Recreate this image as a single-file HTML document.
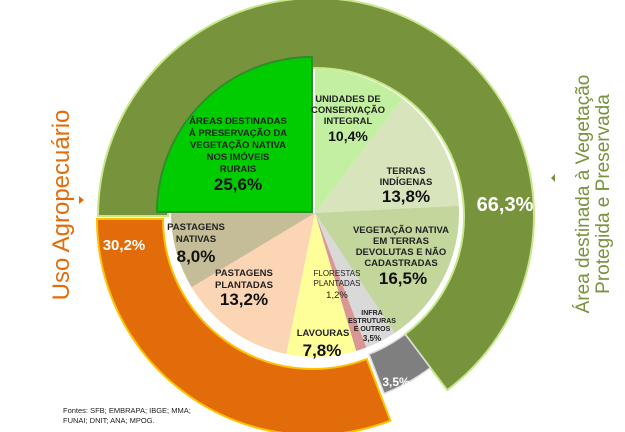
<!DOCTYPE html>
<html><head><meta charset="utf-8"><style>
body{margin:0;background:#fff;width:625px;height:432px;overflow:hidden}
svg{display:block;font-family:"Liberation Sans",Arial,sans-serif}
.l{font-size:9.5px;font-weight:bold;fill:#222}
.p{font-size:17px;font-weight:bold;fill:#111}
</style></head><body>
<svg width="625" height="432" viewBox="0 0 625 432">
<!-- outer ring green -->
<path d="M98,216 A218,218 0 1 1 447.2,390.1 L405.1,334.2 A148,148 0 1 0 168,216 Z" fill="#77933c" stroke="#c6e88a" stroke-width="2"/>
<!-- gray -->
<path d="M430.3,367.7 A190,190 0 0 1 384.1,393.4 L369,354.2 A148,148 0 0 0 405.1,334.2 Z" fill="#7f7f7f" stroke="#ddd" stroke-width="1.5"/>
<!-- orange -->
<path d="M390.4,420.7 A216,216 0 0 1 97,219 L163,219 A150,150 0 0 0 366.8,359 Z" fill="#e36c0a" stroke="#ffc000" stroke-width="2"/>
<!-- inner pie -->
<path d="M315,213 L315,69 A144,144 0 0 1 402.5,98.6 Z" fill="#c2efa0"/>
<path d="M315,213 L402.5,98.6 A144,144 0 0 1 458.8,205.7 Z" fill="#d8e4bc"/>
<path d="M315,213 L458.8,205.7 A144,144 0 0 1 394.5,333.1 Z" fill="#c3d69b"/>
<path d="M315,213 L394.5,333.1 A144,144 0 0 1 366.4,347.5 Z" fill="#d9d9d9"/>
<path d="M315,213 L366.4,347.5 A144,144 0 0 1 356.1,351 Z" fill="#d99694"/>
<path d="M315,213 L356.1,351 A144,144 0 0 1 286.3,354.1 Z" fill="#ffff99"/>
<path d="M315,213 L286.3,354.1 A144,144 0 0 1 191.6,287.2 Z" fill="#fcd5b5"/>
<path d="M315,213 L191.6,287.2 A144,144 0 0 1 171.1,207.5 Z" fill="#c4bd97"/>
<!-- exploded green wedge -->
<path d="M312,212 L157,212 A155,155 0 0 1 312,57 Z" fill="#00cc00" stroke="#2e8b2e" stroke-width="2"/>
<!-- pie labels -->
<g text-anchor="middle">
<text class="l" x="238" y="124">ÁREAS DESTINADAS</text>
<text class="l" x="238" y="136">À PRESERVAÇÃO DA</text>
<text class="l" x="238" y="148">VEGETAÇÃO NATIVA</text>
<text class="l" x="238" y="160">NOS IMÓVEIS</text>
<text class="l" x="238" y="172">RURAIS</text>
<text class="p" x="238" y="190">25,6%</text>
<text class="l" x="348" y="102">UNIDADES DE</text>
<text class="l" x="348" y="113">CONSERVAÇÃO</text>
<text class="l" x="348" y="124">INTEGRAL</text>
<text class="p" x="348" y="141" style="font-size:14px">10,4%</text>
<text class="l" x="406" y="174">TERRAS</text>
<text class="l" x="406" y="185">INDÍGENAS</text>
<text class="p" x="406" y="202">13,8%</text>
<text class="l" x="401" y="233">VEGETAÇÃO NATIVA</text>
<text class="l" x="401" y="244">EM TERRAS</text>
<text class="l" x="401" y="255">DEVOLUTAS E NÃO</text>
<text class="l" x="401" y="266">CADASTRADAS</text>
<text class="p" x="403" y="284">16,5%</text>
<text class="l" x="196" y="230">PASTAGENS</text>
<text class="l" x="196" y="242">NATIVAS</text>
<text class="p" x="196" y="262">8,0%</text>
<text class="l" x="244" y="276">PASTAGENS</text>
<text class="l" x="244" y="288">PLANTADAS</text>
<text class="p" x="244" y="305">13,2%</text>
<text class="l" x="337" y="276" style="font-size:8px;font-weight:normal">FLORESTAS</text>
<text class="l" x="337" y="286" style="font-size:8px;font-weight:normal">PLANTADAS</text>
<text class="l" x="337" y="298" style="font-weight:normal">1,2%</text>
<text class="l" x="372" y="315" style="font-size:7px">INFRA</text>
<text class="l" x="372" y="323" style="font-size:7px">ESTRUTURAS</text>
<text class="l" x="372" y="331" style="font-size:7px">E OUTROS</text>
<text class="l" x="372" y="341" style="font-size:8px">3,5%</text>
<text class="l" x="323" y="336">LAVOURAS</text>
<text class="p" x="322" y="356">7,8%</text>
<text x="505" y="211" fill="#fff" font-size="20" font-weight="bold">66,3%</text>
<text x="124" y="250" fill="#fff" font-size="15" font-weight="bold">30,2%</text>
<text x="396" y="386" fill="#fff" font-size="12" font-weight="bold">3,5%</text>
</g>
<!-- side titles -->
<text transform="translate(69,205) rotate(-90)" text-anchor="middle" fill="#e36c0a" font-size="24">Uso Agropecuário</text>
<path d="M79,196 L84,200 L79,204 Z" fill="#e36c0a"/>
<text transform="translate(589,194) rotate(-90)" text-anchor="middle" fill="#77933c" font-size="19">Área destinada à Vegetação</text>
<text transform="translate(609,194) rotate(-90)" text-anchor="middle" fill="#77933c" font-size="19">Protegida e Preservada</text>
<path d="M555,174 L551,178 L555,182 Z" fill="#77933c"/>
<!-- source -->
<text x="63" y="413" font-size="7.5" fill="#222">Fontes: SFB; EMBRAPA;  IBGE; MMA;</text>
<text x="63" y="423" font-size="7.5" fill="#222">FUNAI; DNIT; ANA;  MPOG.</text>
</svg>
</body></html>
